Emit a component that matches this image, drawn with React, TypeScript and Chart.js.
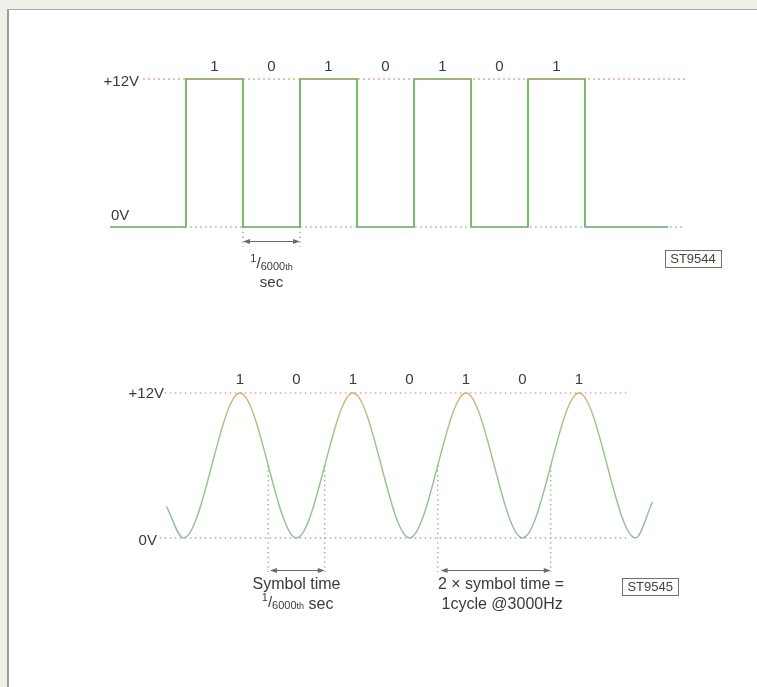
import React, { useEffect, useRef } from "react";
import { Chart, registerables } from "chart.js";

Chart.register(...registerables);

const FONT = '"Liberation Sans", Arial, Helvetica, sans-serif';

// ---------- Top chart: square wave (x in symbol periods, y in volts)
const bitLabels = ["1", "0", "1", "0", "1", "0", "1"];
const squareX = [-1.33, 0, 1, 2, 3, 4, 5, 6, 7, 8.46];
const squareV = [0, 12, 0, 12, 0, 12, 0, 12, 0, 0];
const topHighX = [-0.75, 8.75];
const topLowX = [-1.33, 8.75];
const topGuideX = [1, 2];
const topGuideV = [0, -1.62];

// ---------- Bottom chart: sine wave (peaks = 1, troughs = 0)
const sineX = [-1.3, -1, 0, 1, 2, 3, 4, 5, 6, 7, 7.3];
const sineV = [2.6, 0, 12, 0, 12, 0, 12, 0, 12, 0, 3.0];
const botHighX = [-1.33, 6.9];
const botLowX = [-1.42, 6.9];
const botGuideX = [0.5, 1.5, 3.5, 5.5];
const botGuideV = [6, -2.8];

const levelLabels = ["+12V", "0V"];
const figureIds = ["ST9544", "ST9545"];

type Txt = { text: string; x: number; y: number; size: number; align?: CanvasTextAlign };
type Arrow = { x1: number; x2: number; y: number };
type Box = { text: string; x: number; y: number };
type Frac = { x: number; y: number; tail?: string };

const TEXT = "#3a3a3a";

function annotPlugin(texts: Txt[], arrows: Arrow[], boxes: Box[], fracs: Frac[]) {
  return {
    id: "annot",
    afterDatasetsDraw(chart: any) {
      const ctx: CanvasRenderingContext2D = chart.ctx;
      const sx = chart.scales.x;
      const sy = chart.scales.y;
      ctx.save();
      // arrows
      ctx.strokeStyle = "#6a6a6a";
      ctx.fillStyle = "#6a6a6a";
      ctx.lineWidth = 1;
      const head = (x: number, y: number, dir: number) => {
        ctx.beginPath();
        ctx.moveTo(x, y);
        ctx.lineTo(x + dir * 7, y - 2.6);
        ctx.lineTo(x + dir * 7, y + 2.6);
        ctx.closePath();
        ctx.fill();
      };
      for (const a of arrows) {
        const x1 = sx.getPixelForValue(a.x1);
        const x2 = sx.getPixelForValue(a.x2);
        const y = Math.round(sy.getPixelForValue(a.y)) + 0.5;
        ctx.beginPath();
        ctx.moveTo(x1 + 3, y);
        ctx.lineTo(x2 - 3, y);
        ctx.stroke();
        head(x1, y, 1);
        head(x2, y, -1);
      }
      // texts
      ctx.fillStyle = TEXT;
      ctx.textBaseline = "middle";
      for (const t of texts) {
        ctx.font = `${t.size}px ${FONT}`;
        ctx.textAlign = t.align || "center";
        ctx.fillText(t.text, sx.getPixelForValue(t.x), sy.getPixelForValue(t.y));
      }
      // boxed figure ids
      for (const b of boxes) {
        ctx.font = `13px ${FONT}`;
        const w = ctx.measureText(b.text).width + 10;
        const h = 17;
        const cx = sx.getPixelForValue(b.x);
        const cy = sy.getPixelForValue(b.y);
        const left = Math.round(cx - w / 2) + 0.5;
        const top = Math.round(cy - h / 2) + 0.5;
        ctx.fillStyle = "#fbfbf8";
        ctx.fillRect(left, top, Math.round(w), h);
        ctx.strokeStyle = "#707070";
        ctx.lineWidth = 1;
        ctx.strokeRect(left, top, Math.round(w), h);
        ctx.fillStyle = "#444";
        ctx.textAlign = "center";
        ctx.textBaseline = "middle";
        ctx.fillText(b.text, cx, cy + 0.5);
      }
      // fractions 1/6000th
      for (const f of fracs) {
        const parts: { t: string; size: number; dy: number }[] = [
          { t: "1", size: 11, dy: -8 },
          { t: "/", size: 15, dy: -2 },
          { t: "6000", size: 11, dy: 0 },
          { t: "th", size: 9, dy: 0 },
        ];
        if (f.tail) parts.push({ t: f.tail, size: 16, dy: 0 });
        let total = 0;
        const ws = parts.map((p) => {
          ctx.font = `${p.size}px ${FONT}`;
          const w = ctx.measureText(p.t).width;
          total += w;
          return w;
        });
        let x = sx.getPixelForValue(f.x) - total / 2;
        const base = sy.getPixelForValue(f.y);
        ctx.fillStyle = TEXT;
        ctx.textAlign = "left";
        ctx.textBaseline = "alphabetic";
        parts.forEach((p, i) => {
          ctx.font = `${p.size}px ${FONT}`;
          ctx.fillText(p.t, x, base + p.dy);
          x += ws[i];
        });
      }
      ctx.restore();
    },
  };
}

function pts(xs: number[], ys: number[]) {
  return xs.map((x, i) => ({ x, y: ys[i] }));
}

function refLine(xs: number[], v: number, color: string) {
  return {
    data: xs.map((x) => ({ x, y: v })),
    borderColor: color,
    borderWidth: 1.3,
    borderDash: [1.5, 3.5],
    pointRadius: 0,
    fill: false,
  };
}

function guides(xs: number[], vs: number[]) {
  const data: any[] = [];
  xs.forEach((x) => {
    data.push({ x, y: vs[0] }, { x, y: vs[1] }, { x, y: null });
  });
  return {
    data,
    borderColor: "#8f8f8f",
    borderWidth: 1.2,
    borderDash: [1.3, 3.5],
    pointRadius: 0,
    spanGaps: false,
    fill: false,
  };
}

type Layout = { top: number; height: number; x0: number; unit: number; zeroY: number; pxPerV: number };
const W = 757;
const TOP_L: Layout = { top: 40, height: 270, x0: 186, unit: 57, zeroY: 227, pxPerV: 148 / 12 };
const BOT_L: Layout = { top: 330, height: 320, x0: 240, unit: 56.5, zeroY: 538, pxPerV: 145 / 12 };

function baseOptions(L: Layout) {
  return {
    animation: false,
    responsive: false,
    maintainAspectRatio: false,
    events: [],
    layout: { padding: 0 },
    plugins: { legend: { display: false }, tooltip: { enabled: false }, title: { display: false } },
    elements: { point: { radius: 0 } },
    scales: {
      x: { type: "linear", display: false, min: -L.x0 / L.unit, max: (W - L.x0) / L.unit },
      y: {
        type: "linear",
        display: false,
        min: -(L.top + L.height - L.zeroY) / L.pxPerV,
        max: (L.zeroY - L.top) / L.pxPerV,
      },
    },
  };
}

export default function App() {
  const topRef = useRef<HTMLCanvasElement>(null);
  const botRef = useRef<HTMLCanvasElement>(null);

  useEffect(() => {
    const topTexts: Txt[] = [
      { text: levelLabels[0], x: -0.825, y: 11.76, size: 15, align: "right" },
      { text: levelLabels[1], x: -1.316, y: 0.89, size: 15, align: "left" },
      ...bitLabels.map((b, i) => ({ text: b, x: i + 0.5, y: 12.97, size: 15 })),
      { text: "sec", x: 1.5, y: -4.54, size: 15 },
    ];
    const topChart = new Chart(topRef.current as HTMLCanvasElement, {
      type: "line",
      data: {
        datasets: [
          refLine(topHighX, 12, "#e48a7c"),
          refLine(topLowX, 0, "#a2a6c6"),
          guides(topGuideX, topGuideV),
          {
            data: pts(squareX, squareV),
            stepped: "before",
            borderColor: "#62b054",
            borderWidth: 1.7,
            borderJoinStyle: "miter",
            pointRadius: 0,
            fill: false,
          },
        ] as any,
      },
      options: baseOptions(TOP_L) as any,
      plugins: [
        annotPlugin(
          topTexts,
          [{ x1: 1, x2: 2, y: -1.135 }],
          [{ text: figureIds[0], x: 8.895, y: -2.59 }],
          [{ x: 1.5, y: -3.49 }]
        ),
      ],
    });

    const botTexts: Txt[] = [
      { text: levelLabels[0], x: -1.345, y: 11.92, size: 15, align: "right" },
      { text: levelLabels[1], x: -1.47, y: -0.25, size: 15, align: "right" },
      ...bitLabels.map((b, i) => ({ text: b, x: i, y: 13.08, size: 15 })),
      { text: "Symbol time", x: 1.0, y: -3.85, size: 16 },
      { text: "2 \u00d7 symbol time =", x: 4.62, y: -3.85, size: 16 },
      { text: "1cycle @3000Hz", x: 4.64, y: -5.55, size: 16 },
    ];
    const sineColor = (context: any) => {
      const chart = context.chart;
      const area = chart.chartArea;
      if (!area) return "#92c687";
      const y12 = chart.scales.y.getPixelForValue(12);
      const y0 = chart.scales.y.getPixelForValue(0);
      const g = chart.ctx.createLinearGradient(0, y12, 0, y0);
      g.addColorStop(0, "#e2a468");
      g.addColorStop(0.08, "#b8c27c");
      g.addColorStop(0.25, "#98c884");
      g.addColorStop(0.8, "#8ec48c");
      g.addColorStop(1, "#96b8a4");
      return g;
    };
    const botChart = new Chart(botRef.current as HTMLCanvasElement, {
      type: "line",
      data: {
        datasets: [
          refLine(botHighX, 12, "#e2a08e"),
          refLine(botLowX, 0, "#a4a6d0"),
          guides(botGuideX, botGuideV),
          {
            data: pts(sineX, sineV),
            cubicInterpolationMode: "monotone",
            borderColor: sineColor,
            borderWidth: 1.4,
            pointRadius: 0,
            fill: false,
          },
        ] as any,
      },
      options: baseOptions(BOT_L) as any,
      plugins: [
        annotPlugin(
          botTexts,
          [
            { x1: 0.53, x2: 1.5, y: -2.65 },
            { x1: 3.55, x2: 5.5, y: -2.65 },
          ],
          [{ text: figureIds[1], x: 7.26, y: -4.01 }],
          [{ x: 1.02, y: -5.88, tail: " sec" }]
        ),
      ],
    });

    return () => {
      topChart.destroy();
      botChart.destroy();
    };
  }, []);

  return (
    <div
      style={{
        position: "fixed",
        left: 0,
        top: 0,
        width: W,
        height: 687,
        background: "#eef0ea",
        overflow: "hidden",
      }}
    >
      <div
        style={{
          position: "absolute",
          left: 7,
          top: 9,
          right: 0,
          bottom: 0,
          background: "#ffffff",
          borderLeft: "2px solid #9c9c9c",
          borderTop: "1px solid #a8a8a8",
        }}
      />
      <canvas
        ref={topRef}
        width={W}
        height={TOP_L.height}
        style={{ position: "absolute", left: 0, top: TOP_L.top, width: W, height: TOP_L.height }}
      />
      <canvas
        ref={botRef}
        width={W}
        height={BOT_L.height}
        style={{ position: "absolute", left: 0, top: BOT_L.top, width: W, height: BOT_L.height }}
      />
    </div>
  );
}
